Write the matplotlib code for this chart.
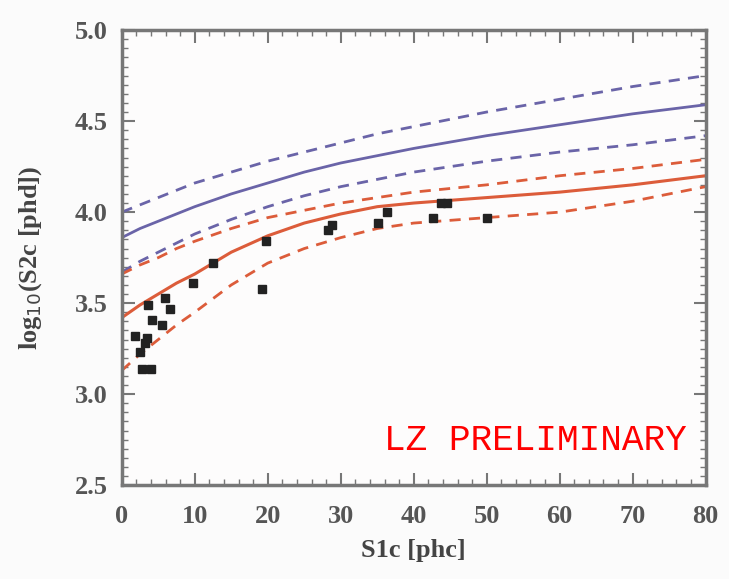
import numpy as np
import matplotlib.pyplot as plt
from matplotlib.ticker import MultipleLocator

# band x grid
band_x = [0, 2.5, 5, 7.5, 10, 15, 20, 25, 30, 35, 40, 50, 60, 70, 80]

# ER band (blue)
blue_mid = [3.86, 3.91, 3.95, 3.99, 4.03, 4.10, 4.16, 4.22, 4.27, 4.31, 4.35, 4.42, 4.48, 4.54, 4.59]
blue_hi = [4.00, 4.04, 4.08, 4.12, 4.16, 4.22, 4.28, 4.33, 4.38, 4.43, 4.47, 4.55, 4.62, 4.69, 4.75]
blue_lo = [3.67, 3.73, 3.78, 3.83, 3.88, 3.96, 4.03, 4.09, 4.14, 4.18, 4.22, 4.28, 4.33, 4.37, 4.42]

# NR band (red)
red_mid = [3.42, 3.49, 3.55, 3.61, 3.66, 3.78, 3.87, 3.94, 3.99, 4.03, 4.05, 4.08, 4.11, 4.15, 4.20]
red_hi = [3.66, 3.71, 3.75, 3.80, 3.84, 3.91, 3.97, 4.01, 4.05, 4.08, 4.11, 4.15, 4.20, 4.24, 4.29]
red_lo = [3.13, 3.22, 3.30, 3.38, 3.45, 3.60, 3.72, 3.80, 3.86, 3.91, 3.94, 3.97, 4.00, 4.06, 4.14]

# events
s1 = [12.5, 9.7, 5.9, 3.6, 6.6, 4.1, 5.5, 1.8, 3.4, 3.2, 2.5, 2.8, 4.0,
      19.2, 19.8, 28.3, 28.8, 35.1, 36.3, 42.6, 43.8, 44.6, 50.1]
s2 = [3.72, 3.61, 3.53, 3.49, 3.47, 3.41, 3.38, 3.32, 3.31, 3.28, 3.23, 3.14, 3.14,
      3.58, 3.84, 3.90, 3.93, 3.94, 4.00, 3.97, 4.05, 4.05, 3.97]

blue = '#6a64a8'
red = '#dc5c3a'

fig = plt.figure(figsize=(7.29, 5.79), dpi=100)
fig.patch.set_facecolor('#fbfbfb')
ax = fig.add_axes([0.167, 0.162, 0.801, 0.786])
ax.set_facecolor('#fdfcfc')

ax.plot(band_x, blue_hi, color=blue, lw=2, ls=(0, (4, 3)))
ax.plot(band_x, blue_mid, color=blue, lw=2)
ax.plot(band_x, blue_lo, color=blue, lw=2, ls=(0, (4, 3)))
ax.plot(band_x, red_hi, color=red, lw=2, ls=(0, (4, 3)))
ax.plot(band_x, red_mid, color=red, lw=2.2)
ax.plot(band_x, red_lo, color=red, lw=2, ls=(0, (4, 3)))

ax.plot(s1, s2, 's', color='#222222', ms=6, mec='#222222')

ax.set_xlim(0, 80)
ax.set_ylim(2.5, 5.0)
ax.xaxis.set_major_locator(MultipleLocator(10))
ax.xaxis.set_minor_locator(MultipleLocator(2))
ax.yaxis.set_major_locator(MultipleLocator(0.5))
ax.yaxis.set_minor_locator(MultipleLocator(0.05))
ax.tick_params(which='both', direction='in', top=True, right=True, color='#777777')
ax.tick_params(which='major', length=9, width=1.5)
ax.tick_params(which='minor', length=4, width=1)
for sp in ax.spines.values():
    sp.set_color('#777777')
    sp.set_linewidth(2.5)

for lab in ax.get_xticklabels() + ax.get_yticklabels():
    lab.set_family('Liberation Serif')
    lab.set_fontsize(19)
    lab.set_color('#555555')
    lab.set_fontweight('bold')
ax.tick_params(axis='x', pad=14)
ax.tick_params(axis='y', pad=10)

ax.set_xlabel('S1c [phc]', family='Liberation Serif', fontsize=19,
              color='#444444', fontweight='bold', labelpad=8)
ax.set_ylabel('log$_{10}$(S2c [phd])', family='Liberation Serif', fontsize=19,
              color='#444444', fontweight='bold', labelpad=22)

ax.text(0.968, 0.099, 'LZ PRELIMINARY', transform=ax.transAxes, ha='right',
        va='center', color='#ff0000', fontsize=26, family='Liberation Mono')

fig.savefig('out.png', dpi=100, facecolor=fig.get_facecolor())
